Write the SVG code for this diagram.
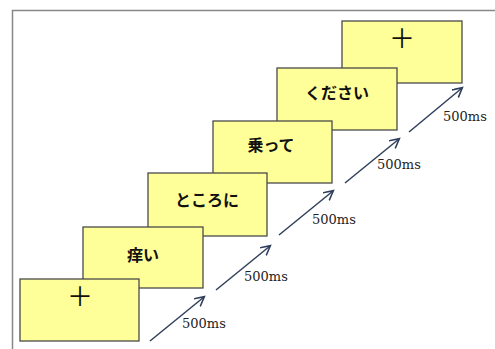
<svg xmlns="http://www.w3.org/2000/svg" width="495" height="349" viewBox="0 0 495 349">
<defs>
<marker id="ah" markerWidth="12" markerHeight="12" refX="9" refY="5" orient="auto" markerUnits="userSpaceOnUse" viewBox="0 0 12 12">
<path d="M0,0 L9.5,5 L0,10" fill="none" stroke="#2f3f5c" stroke-width="1.6"/>
</marker>
</defs>
<style>
.box{fill:#ffff99;stroke:#4a4a4a;stroke-width:1.3}
.shadow{fill:none;stroke:#a0a0a0;stroke-width:1.5}
.jp{font-family:"Noto Sans CJK JP","Noto Sans CJK SC",sans-serif;font-size:16px;font-weight:bold;fill:#111;text-anchor:middle}
.plus{font-family:"Noto Sans CJK JP",sans-serif;font-size:26px;fill:#111;text-anchor:middle}
.lbl{font-family:"DejaVu Serif","Liberation Serif",serif;font-size:13px;fill:#222}
.arr{stroke:#2f3f5c;stroke-width:1.5;fill:none;marker-end:url(#ah)}
</style>
<rect width="495" height="349" fill="#fff"/>
<path d="M12.5,349 V10.5 H495" fill="none" stroke="#888" stroke-width="1.5"/>
<g id="box6">
<rect class="box" x="342" y="21" width="120" height="62"/>
<text class="plus" x="402" y="48">＋</text>
</g>
<g id="box5">
<rect class="box" x="277" y="68" width="120" height="62"/>
<text class="jp" x="337" y="99">ください</text>
</g>
<g id="box4">
<rect class="box" x="213" y="121" width="119" height="62"/>
<text class="jp" x="271" y="151">乗って</text>
</g>
<g id="box3">
<rect class="box" x="148" y="173" width="119" height="63"/>
<text class="jp" x="207" y="206">ところに</text>
</g>
<g id="box2">
<rect class="box" x="83" y="227" width="120" height="61"/>
<text class="jp" x="143" y="261">痒い</text>
</g>
<g id="box1">
<rect class="box" x="20" y="279" width="119" height="62"/>
<text class="plus" x="80" y="306">＋</text>
</g>
<g id="connectors">
<line class="arr" x1="150" y1="341" x2="204" y2="297"/>
<line class="arr" x1="216" y1="290" x2="270" y2="246"/>
<line class="arr" x1="279" y1="235" x2="333" y2="191"/>
<line class="arr" x1="345" y1="183" x2="399" y2="139"/>
<line class="arr" x1="409" y1="132" x2="462" y2="88"/>
<text class="lbl" x="182" y="328">500ms</text>
<text class="lbl" x="244" y="281">500ms</text>
<text class="lbl" x="312" y="224">500ms</text>
<text class="lbl" x="377" y="169">500ms</text>
<text class="lbl" x="443" y="121">500ms</text>
</g>
</svg>
